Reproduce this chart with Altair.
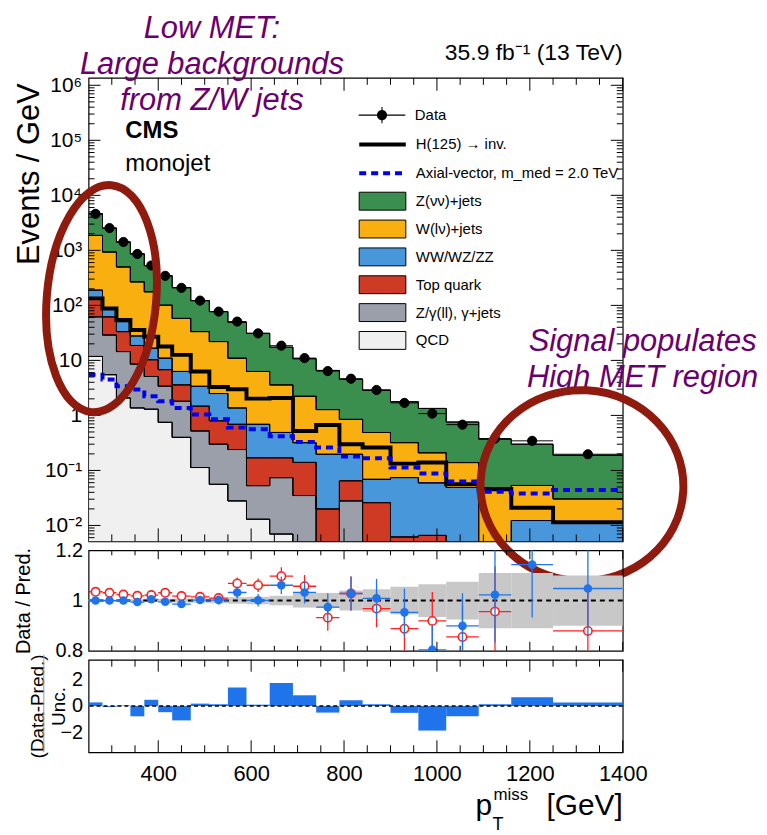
import json
import altair as alt
import numpy as np
import pandas as pd

FONT = "Liberation Sans"

# ---------------- data ----------------
bin_edges = [250, 280, 310, 340, 370, 400, 430, 470, 510, 550, 590, 640, 690,
             740, 790, 840, 900, 960, 1020, 1090, 1160, 1250, 1400]

process_names = ["Z(νν)+jets", "W(lν)+jets", "WW/WZ/ZZ", "Top quark",
                 "Z/γ(ll), γ+jets", "QCD"]
process_colors = ["#3A8E4E", "#F9AF10", "#4897DA", "#CF3A24", "#9A9FAA", "#F0F0F0"]

# events / GeV per bin for each background
z_nunu = [2740, 1605, 920, 597, 350, 245, 153, 88.6, 55, 38.1, 24.7, 13.8, 8.5,
          5.29, 3.67, 2.38, 1.45, 1.13, 0.62, 0.327, 0.247, 0.158]
w_lnu = [1680, 849, 449, 240, 160, 90, 51.7, 30.0, 19.5, 9.6, 5.6, 3.1, 1.91,
         1.08, 0.65, 0.42, 0.246, 0.15, 0.09, 0.039, 0.041, 0.019]
diboson = [56, 24, 17.3, 9.2, 6.4, 4.2, 2.7, 1.91, 1.7, 0.68, 0.52, 0.32, 0.18,
           0.177, 0.132, 0.043, 0.068, 0.053, 0.045, 0.001, 0.0083, 0.0074]
top_quark = [72, 33, 18.9, 10.1, 5.2, 3.4, 1.79, 0.95, 0.50, 0.45, 0.117, 0.096,
             0.105, 0.016, 0.037, 0.022, 0.0032, 0.0036, 0.002, 0.001, 0.002, 0.002]
z_gamma = [50.2, 23.5, 12.4, 7.2, 3.8, 2.65, 1.41, 0.41, 0.244, 0.212, 0.040,
           0.067, 0.032, 0.002, 0.026, 0.003, 0.002, 0.002, 0.001, 0.001, 0.001, 0.001]
qcd = [11.8, 5.5, 2.08, 1.37, 1.3, 0.75, 0.4, 0.113, 0.056, 0.028, 0.013, 0.007,
       0.003, 0.002, 0.002, 0.001, 0.001, 0.001, 0.001, 0.001, 0.001, 0.001]

data_obs = [4610, 2540, 1420, 860, 530, 344, 208, 122, 77, 50.7, 31.0, 18.5,
            11.0, 6.4, 4.65, 2.9, 1.69, 1.08, 0.68, 0.38, 0.345, 0.197]

signal_names = ["H(125) → inv.", "Axial-vector, m_med = 2.0 TeV"]
h_inv = [134, 88, 54, 35.8, 27, 17.9, 12.6, 6.3, 3.3, 3.0, 2.02, 2.08, 0.52,
         0.67, 0.30, 0.26, 0.133, 0.139, 0.056, 0.046, 0.021, 0.0114]
axial = [5.5, 4.5, 3.4, 2.95, 2.23, 1.81, 1.37, 1.04, 0.85, 0.60, 0.56, 0.42,
         0.33, 0.26, 0.18, 0.166, 0.113, 0.088, 0.063, 0.041, 0.038, 0.044]

ratio_postfit = [1.000, 1.000, 1.000, 0.994, 1.005, 0.995, 0.986, 1.002, 1.002,
                 1.032, 1.001, 1.061, 1.032, 0.974, 1.028, 1.009, 0.953, 0.804,
                 0.899, 1.023, 1.143, 1.048]
ratio_postfit_err = [0.003, 0.004, 0.005, 0.006, 0.008, 0.010, 0.011, 0.014,
                     0.018, 0.023, 0.025, 0.035, 0.044, 0.055, 0.068, 0.077,
                     0.095, 0.10, 0.13, 0.19, 0.21, 0.19]
ratio_prefit = [1.035, 1.031, 1.024, 1.019, 1.022, 1.031, 1.018, 1.015, 1.010,
                1.068, 1.061, 1.097, 1.057, 0.932, 1.028, 0.968, 0.888, 0.919,
                0.855, 0.956, None, 0.879]
ratio_prefit_err = [0.003, 0.004, 0.005, 0.006, 0.008, 0.010, 0.011, 0.014,
                    0.018, 0.024, 0.027, 0.036, 0.045, 0.052, 0.068, 0.074,
                    0.089, 0.115, 0.125, 0.18, 0.22, 0.16]
band_unc = [0.004, 0.004, 0.005, 0.005, 0.006, 0.007, 0.008, 0.009, 0.011, 0.013,
            0.015, 0.019, 0.028, 0.030, 0.040, 0.045, 0.055, 0.065, 0.075, 0.11,
            0.11, 0.10]
pulls = [0.27, -0.07, 0.04, -0.78, 0.47, -0.47, -1.09, 0.18, 0.13, 1.40, 0.10,
         1.74, 0.81, -0.50, 0.44, 0.13, -0.52, -1.86, -0.78, 0.13, 0.67, 0.27]

main_tick_values = [0.01, 0.1, 1, 10, 100, 1000, 1e4, 1e5, 1e6]
main_tick_labels = ["10⁻²", "10⁻¹", "1", "10", "10²", "10³", "10⁴", "10⁵", "10⁶"]
ratio_tick_values = [0.8, 0.9, 1.0, 1.1, 1.2]
pull_tick_values = [-2, 0, 2]
x_tick_values = [400, 600, 800, 1000, 1200, 1400]
x_minor_ticks = [300, 350, 450, 500, 550, 650, 700, 750, 850, 900, 950, 1050,
                 1100, 1150, 1250, 1300, 1350]

# ---------------- layout ----------------
W = 537
H_MAIN, H_RATIO, H_PULL = 466, 101, 93
Y_MIN, Y_MAX = 0.00514, 1.366e6
BLUE = "#1F74EC"
RED = "#FF2020"
PURPLE = "#6A006F"
ELLIPSE = "#8F1A0E"
LEG_X = 277

xs = alt.Scale(domain=[250, 1400], nice=False, zero=False)
ys_main = alt.Scale(type="log", domain=[Y_MIN, Y_MAX], nice=False)
ys_ratio = alt.Scale(domain=[0.8, 1.2], nice=False, zero=False)
ys_pull = alt.Scale(domain=[-3.5, 3.5], nice=False, zero=False)

lo = bin_edges[:-1]
hi = bin_edges[1:]
center = [(a + b) / 2 for a, b in zip(lo, hi)]
nb = len(lo)


def X(field, show=False):
    if show:
        return alt.X(field, scale=xs)
    return alt.X(field, scale=xs, axis=None)


def Y(field, scale):
    # secondary layers: the axis is merged from the primary layer
    return alt.Y(field, scale=scale)


# stacked backgrounds (bottom -> top)
FLOOR = 1e-4
bottom_up = list(zip(process_names[::-1],
                     [qcd, z_gamma, top_quark, diboson, w_lnu, z_nunu]))
cum = np.zeros(nb)
rows = []
for name, vals in bottom_up:
    base = np.maximum(cum, FLOOR)
    cum = cum + np.asarray(vals, float)
    for j, e in enumerate(bin_edges):
        k = min(j, nb - 1)
        rows.append({"proc": name, "x": e, "top": cum[k], "bottom": base[k]})
stack_df = pd.DataFrame(rows)

sig_rows = []
for name, vals in zip(signal_names, [h_inv, axial]):
    for j, e in enumerate(bin_edges):
        sig_rows.append({"sig": name, "x": e, "y": vals[min(j, nb - 1)]})
sig_df = pd.DataFrame(sig_rows)

data_df = pd.DataFrame({"c": center, "lo": lo, "hi": hi, "v": data_obs,
                        "kind": ["Data"] * nb})


def legend(path, lx, ly, sw, label_offset, row_pad, size=1296):
    return alt.Legend(title=None, orient="none", legendX=lx, legendY=ly,
                      symbolType=path, symbolSize=size, symbolStrokeWidth=sw,
                      labelFontSize=15, labelFont=FONT, labelColor="black",
                      labelLimit=600, labelOffset=label_offset,
                      rowPadding=row_pad, padding=0)


# box symbol: 32 px scale -> 47 x 18 px
BOX = "M-1.466,-0.5625H1.466V0.5625H-1.466Z"
LINE = "M-1.3,0H1.3"
# marker + error bars drawn only with filled sub-paths (same winding)
DOT = ("M-1.3,-0.03H1.3V0.03H-1.3Z"
       "M-0.03,-0.45H0.03V0.45H-0.03Z"
       "M-0.28,0A0.28,0.28 0 1,1 0.28,0A0.28,0.28 0 1,1 -0.28,0Z")


def text(t, x, y, size, color="black", weight="normal", style="normal",
         align="left"):
    return alt.Chart(pd.DataFrame({"t": [t]})).mark_text(
        font=FONT, fontSize=size, fontWeight=weight, fontStyle=style,
        color=color, align=align, baseline="alphabetic").encode(
        text="t:N", x=alt.value(x), y=alt.value(y))


def ellipse(cx, cy, w, h, angle):
    r = w / h
    path = (f"M{-r:.4f},0A{r:.4f},1 0 1,0 {r:.4f},0"
            f"A{r:.4f},1 0 1,0 {-r:.4f},0Z")
    return alt.Chart(pd.DataFrame({"n": [0]})).mark_point(
        shape=path, size=h * h, filled=False, color=ELLIPSE, strokeWidth=8,
        angle=angle, opacity=1, clip=False).encode(
        x=alt.value(cx), y=alt.value(cy))


def tick_layers(yscale, y_major, y_minor, h, x_len, y_len, show_x):
    out = []
    for vals, ln in ((x_tick_values, x_len[0]), (x_minor_ticks, x_len[1])):
        base = alt.Chart(pd.DataFrame({"v": vals})).mark_rule(
            color="black", strokeWidth=1)
        out.append(base.encode(x=X("v:Q", show_x), y=alt.value(h),
                               y2=alt.value(h - ln)))
        out.append(base.encode(x=X("v:Q", show_x), y=alt.value(0),
                               y2=alt.value(ln)))
    for vals, ln in ((y_major, y_len[0]), (y_minor, y_len[1])):
        if not vals:
            continue
        base = alt.Chart(pd.DataFrame({"v": vals})).mark_rule(
            color="black", strokeWidth=1)
        out.append(base.encode(y=Y("v:Q", yscale), x=alt.value(0),
                               x2=alt.value(ln)))
        out.append(base.encode(y=Y("v:Q", yscale), x=alt.value(W),
                               x2=alt.value(W - ln)))
    return out


# ---------------- main panel ----------------
main_axis = alt.Axis(
    values=main_tick_values,
    labelExpr=json.dumps(main_tick_labels, ensure_ascii=False)
    + "[round(log(datum.value) / LN10) + 2]",
    ticks=False, domain=False, labelFontSize=21, labelPadding=7,
    labelOverlap=False, title="Events / GeV", titleFontSize=31,
    titleX=-50, titleY=5, titleAlign="right", titleAngle=270,
    titleBaseline="alphabetic")

areas = alt.Chart(stack_df).mark_area(
    interpolate="step-after", clip=True, stroke="black", strokeWidth=1).encode(
    x=X("x:Q"),
    y=alt.Y("top:Q", scale=ys_main, axis=main_axis, stack=None),
    y2="bottom:Q",
    fill=alt.Fill("proc:N", scale=alt.Scale(domain=process_names,
                                            range=process_colors),
                  legend=legend(BOX, LEG_X + 2, 107.5, 1, 17, 0, size=1024)),
)
outlines = alt.Chart(stack_df).mark_line(
    interpolate="step-after", color="black", strokeWidth=1, clip=True).encode(
    x=X("x:Q"), y=Y("top:Q", ys_main), detail="proc:N")

sig_legend = legend(LINE, LEG_X - 1.5, 47, 4, 13.5, 1)
signals = alt.Chart(sig_df).mark_line(
    interpolate="step-after", strokeWidth=4, clip=True).encode(
    x=X("x:Q"), y=Y("y:Q", ys_main),
    stroke=alt.Stroke("sig:N", scale=alt.Scale(domain=signal_names,
                                               range=["black", "#0000EE"]),
                      legend=sig_legend),
    strokeDash=alt.StrokeDash("sig:N", scale=alt.Scale(
        domain=signal_names, range=[[1, 0], [7, 5]]), legend=sig_legend),
)
data_xerr = alt.Chart(data_df).mark_rule(color="black", strokeWidth=1).encode(
    x=X("lo:Q"), x2="hi:Q", y=Y("v:Q", ys_main))
data_pts = alt.Chart(data_df).mark_point(
    filled=True, fill="black", stroke="black", strokeWidth=1, size=85).encode(
    x=X("c:Q"), y=Y("v:Q", ys_main),
    opacity=alt.Opacity("kind:N", scale=alt.Scale(domain=["Data"], range=[1]),
                        legend=alt.Legend(
                            title=None, orient="none", legendX=LEG_X,
                            legendY=19.5, symbolType=DOT, symbolSize=1296,
                            symbolStrokeWidth=0, symbolFillColor="black",
                            labelFontSize=15, labelFont=FONT,
                            labelColor="black", labelOffset=15, padding=0)),
)

main_minor = [m * 10 ** k for k in range(-3, 6) for m in range(2, 10)
              if Y_MIN <= m * 10 ** k <= Y_MAX]

main_layers = [areas, outlines, signals, data_xerr, data_pts]
main_layers += tick_layers(ys_main, main_tick_values, main_minor, H_MAIN,
                           (13, 7), (12, 6), False)
main_layers += [
    text("CMS", 37, 60, 24, weight="bold"),
    text("monojet", 37, 94, 24),
    text("35.9 fb⁻¹ (13 TeV)", W, -18, 23, align="right"),
    text("Low MET:", 124, -40, 31, color=PURPLE, style="italic", align="center"),
    text("Large backgrounds", 124, -4, 31, color=PURPLE, style="italic",
         align="center"),
    text("from Z/W jets", 124, 32, 31, color=PURPLE, style="italic",
         align="center"),
    text("Signal populates", 557, 275, 31, color=PURPLE, style="italic",
         align="center"),
    text("High MET region", 557, 311, 31, color=PURPLE, style="italic",
         align="center"),
    ellipse(13, 222, 110, 229, 5),
    ellipse(496, 410, 204, 192, 3),
]
main = alt.layer(*main_layers).properties(width=W, height=H_MAIN)

# ---------------- ratio panel ----------------
ratio_df = pd.DataFrame({
    "c": center, "lo": lo, "hi": hi,
    "post": ratio_postfit,
    "post_lo": [r - e for r, e in zip(ratio_postfit, ratio_postfit_err)],
    "post_hi": [r + e for r, e in zip(ratio_postfit, ratio_postfit_err)],
    "pre": ratio_prefit,
    "pre_lo": [None if r is None else r - e
               for r, e in zip(ratio_prefit, ratio_prefit_err)],
    "pre_hi": [None if r is None else r + e
               for r, e in zip(ratio_prefit, ratio_prefit_err)],
    "band_lo": [1 - u for u in band_unc],
    "band_hi": [1 + u for u in band_unc],
})
ratio_axis = alt.Axis(
    values=ratio_tick_values,
    labelExpr="datum.value == 1 ? '1' : format(datum.value, '.1f')",
    ticks=False, domain=False, labelFontSize=20, labelPadding=6,
    labelOverlap=False, title="Data / Pred.", titleFontSize=20,
    titleX=-59, titleY=H_RATIO / 2, titleAlign="center", titleAngle=270,
    titleBaseline="alphabetic")

band = alt.Chart(ratio_df).mark_rect(color="#C8C8C8").encode(
    x=X("lo:Q"), x2="hi:Q",
    y=alt.Y("band_lo:Q", scale=ys_ratio, axis=ratio_axis), y2="band_hi:Q")
unity = alt.Chart(pd.DataFrame({"v": [1.0]})).mark_rule(
    color="black", strokeWidth=2, strokeDash=[5, 4]).encode(
    y=Y("v:Q", ys_ratio))


def ratio_series(col, color, filled):
    sub = ratio_df.dropna(subset=[col])
    xe = alt.Chart(sub).mark_rule(color=color, strokeWidth=1.3, clip=True).encode(
        x=X("lo:Q"), x2="hi:Q", y=Y(f"{col}:Q", ys_ratio))
    ye = alt.Chart(sub).mark_rule(color=color, strokeWidth=1.3, clip=True).encode(
        x=X("c:Q"), y=Y(f"{col}_lo:Q", ys_ratio), y2=f"{col}_hi:Q")
    if filled:
        pt = alt.Chart(sub).mark_point(filled=True, color=color, size=75,
                                       opacity=1, clip=True)
    else:
        pt = alt.Chart(sub).mark_point(filled=True, fill="white", stroke=color,
                                       strokeWidth=1.6, size=70,
                                       opacity=1, clip=True)
    pt = pt.encode(x=X("c:Q"), y=Y(f"{col}:Q", ys_ratio))
    return [xe, ye, pt]


ratio_layers = [band, unity] + ratio_series("pre", RED, False) \
    + ratio_series("post", BLUE, True)
ratio_layers += tick_layers(ys_ratio, [], [], H_RATIO, (9, 5), (0, 0), False)
ratio = alt.layer(*ratio_layers).properties(width=W, height=H_RATIO)

# ---------------- pull panel ----------------
pull_df = pd.DataFrame({"lo": lo, "hi": hi, "p": pulls, "zero": [0.0] * nb})
pull_y_axis = alt.Axis(
    values=pull_tick_values, ticks=False, domain=False, labelFontSize=20,
    labelPadding=6, title=["(Data-Pred.)", "Unc."], titleFontSize=19,
    titleLineHeight=21, titleX=-45, titleY=H_PULL / 2, titleAlign="center",
    titleAngle=270, titleBaseline="alphabetic")
pull_x_axis = alt.Axis(
    values=x_tick_values, format="d", ticks=False, domain=False,
    labelFontSize=22, labelPadding=11, labelFlush=False, labelOverlap=False,
    title="")
bars = alt.Chart(pull_df).mark_rect(color=BLUE).encode(
    x=alt.X("lo:Q", scale=xs, axis=pull_x_axis), x2="hi:Q",
    y=alt.Y("zero:Q", scale=ys_pull, axis=pull_y_axis), y2="p:Q")
zero_line = alt.Chart(pd.DataFrame({"v": [0.0]})).mark_rule(
    color="black", strokeWidth=1.3, strokeDash=[4, 3]).encode(
    y=Y("v:Q", ys_pull))
frac_bar = alt.Chart(pd.DataFrame({"n": [0]})).mark_rule(
    color="#999999", strokeWidth=1).encode(
    x=alt.value(-45), y=alt.value(-5), y2=alt.value(H_PULL))

pull_layers = [bars, zero_line, frac_bar]
pull_layers += tick_layers(ys_pull, [], [], H_PULL, (12, 7), (0, 0), True)
pull_layers += [
    text("p", 389, 156, 30),
    text("miss", 407, 141, 17),
    text("T", 406, 171, 18),
    text("[GeV]", W, 156, 30, align="right"),
]
pull = alt.layer(*pull_layers).properties(width=W, height=H_PULL)

chart = alt.vconcat(main, ratio, pull, spacing=9, bounds="flush").properties(
    padding={"left": 5, "top": 2, "right": 0, "bottom": 0}
).resolve_scale(
    fill="independent", stroke="independent", strokeDash="independent",
    opacity="independent"
).configure(font=FONT).configure_view(
    stroke="black", strokeWidth=1.2
).configure_axis(
    grid=False, labelColor="black", titleColor="black", labelFont=FONT,
    titleFont=FONT, titleFontWeight="normal"
)

chart.save("out.html", embed_options={"renderer": "svg", "actions": False})
